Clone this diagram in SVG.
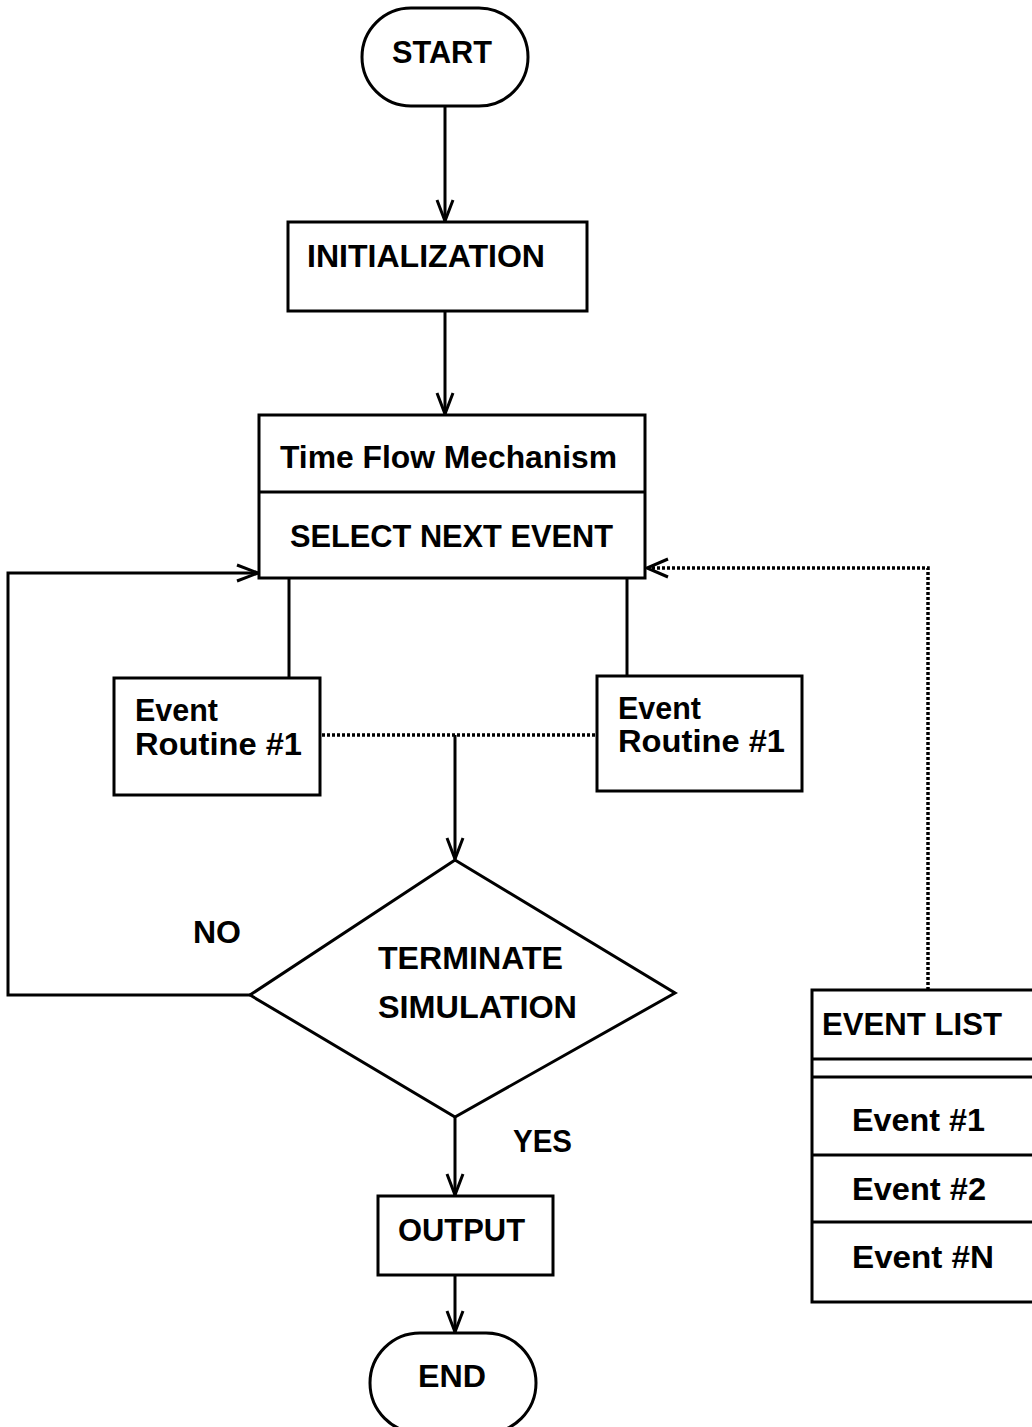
<svg xmlns="http://www.w3.org/2000/svg" width="1032" height="1427" viewBox="0 0 1032 1427">
  <style>
    .box { fill: #fff; stroke: #000; stroke-width: 3; }
    .ln { fill: none; stroke: #000; stroke-width: 3; }
    .dot { fill: none; stroke: #000; stroke-width: 3.5; stroke-dasharray: 3 2; }
    text { font-family: "Liberation Sans", Arial, sans-serif; font-weight: bold; fill: #000; font-size: 32px; }
  </style>
  <defs>
    <marker id="arr" markerUnits="userSpaceOnUse" viewBox="0 0 24 20" refX="22" refY="10" markerWidth="24" markerHeight="20" orient="auto">
      <path d="M1,2 L22,10 L1,18" fill="none" stroke="#000" stroke-width="3"/>
    </marker>
  </defs>

  <!-- connectors -->
  <g id="connectors">
    <line class="ln" x1="445" y1="106" x2="445" y2="221" marker-end="url(#arr)"/>
    <line class="ln" x1="445" y1="311" x2="445" y2="414" marker-end="url(#arr)"/>
    <line class="ln" x1="289" y1="578" x2="289" y2="678"/>
    <line class="ln" x1="627" y1="578" x2="627" y2="676"/>
    <line class="dot" x1="322" y1="735" x2="596" y2="735"/>
    <line class="ln" x1="455" y1="735" x2="455" y2="859" marker-end="url(#arr)"/>
    <polyline class="ln" points="250,995 8,995 8,573 258,573" marker-end="url(#arr)"/>
    <line class="ln" x1="455" y1="1117" x2="455" y2="1195" marker-end="url(#arr)"/>
    <line class="ln" x1="455" y1="1275" x2="455" y2="1332" marker-end="url(#arr)"/>
    <polyline class="dot" points="928,990 928,568 648,568"/>
    <path class="ln" d="M668,559 L647,568 L668,577"/>
  </g>

  <g id="start">
    <rect class="box" x="362" y="8" width="166" height="98" rx="49" ry="49"/>
    <text x="392" y="63" textLength="100" lengthAdjust="spacingAndGlyphs">START</text>
  </g>

  <g id="init">
    <rect class="box" x="288" y="222" width="299" height="89"/>
    <text x="307" y="267" textLength="238" lengthAdjust="spacingAndGlyphs">INITIALIZATION</text>
  </g>

  <g id="timeflow">
    <rect class="box" x="259" y="415" width="386" height="163"/>
    <line class="ln" x1="259" y1="492" x2="645" y2="492"/>
    <text x="280" y="468" textLength="337" lengthAdjust="spacingAndGlyphs">Time Flow Mechanism</text>
    <text x="290" y="547" textLength="323" lengthAdjust="spacingAndGlyphs">SELECT NEXT EVENT</text>
  </g>

  <g id="routine-left">
    <rect class="box" x="114" y="678" width="206" height="117"/>
    <text x="135" y="721" textLength="83" lengthAdjust="spacingAndGlyphs">Event</text>
    <text x="135" y="755" textLength="167" lengthAdjust="spacingAndGlyphs">Routine #1</text>
  </g>

  <g id="routine-right">
    <rect class="box" x="597" y="676" width="205" height="115"/>
    <text x="618" y="719" textLength="83" lengthAdjust="spacingAndGlyphs">Event</text>
    <text x="618" y="752" textLength="167" lengthAdjust="spacingAndGlyphs">Routine #1</text>
  </g>

  <g id="decision">
    <polygon class="box" points="455,860 675,993 455,1117 250,995"/>
    <text x="378" y="969" textLength="185" lengthAdjust="spacingAndGlyphs">TERMINATE</text>
    <text x="378" y="1018" textLength="199" lengthAdjust="spacingAndGlyphs">SIMULATION</text>
  </g>

  <g id="labels">
    <text x="193" y="943" textLength="48" lengthAdjust="spacingAndGlyphs">NO</text>
    <text x="513" y="1152" textLength="59" lengthAdjust="spacingAndGlyphs">YES</text>
  </g>

  <g id="output">
    <rect class="box" x="378" y="1196" width="175" height="79"/>
    <text x="398" y="1241" textLength="127" lengthAdjust="spacingAndGlyphs">OUTPUT</text>
  </g>

  <g id="end">
    <rect class="box" x="370" y="1333" width="166" height="100" rx="50" ry="50"/>
    <text x="418" y="1387" textLength="68" lengthAdjust="spacingAndGlyphs">END</text>
  </g>

  <g id="eventlist">
    <rect class="box" x="812" y="990" width="230" height="312"/>
    <line class="ln" x1="812" y1="1059" x2="1040" y2="1059"/>
    <line class="ln" x1="812" y1="1077" x2="1040" y2="1077"/>
    <line class="ln" x1="812" y1="1155" x2="1040" y2="1155"/>
    <line class="ln" x1="812" y1="1222" x2="1040" y2="1222"/>
    <text x="822" y="1035" textLength="180" lengthAdjust="spacingAndGlyphs">EVENT LIST</text>
    <text x="852" y="1131" textLength="133" lengthAdjust="spacingAndGlyphs">Event #1</text>
    <text x="852" y="1200" textLength="134" lengthAdjust="spacingAndGlyphs">Event #2</text>
    <text x="852" y="1268" textLength="142" lengthAdjust="spacingAndGlyphs">Event #N</text>
  </g>
</svg>
